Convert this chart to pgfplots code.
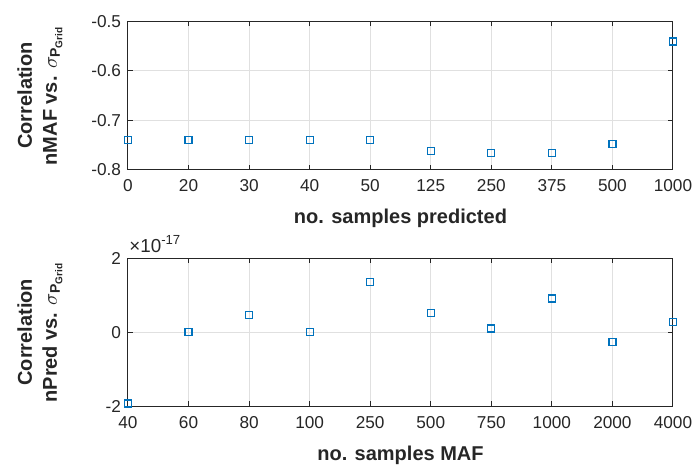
\documentclass[border=0pt]{standalone}
\usepackage{fontspec}
\setmainfont{Liberation Sans}
\usepackage{amsmath}
\usepackage{pgfplots}
\pgfplotsset{compat=1.18}
\definecolor{mblue}{rgb}{0,0.447,0.741}
\definecolor{axgray}{rgb}{0.15,0.15,0.15}
\definecolor{gridgray}{rgb}{0.88,0.88,0.88}

\pgfplotsset{matstyle/.style={
  scale only axis, width=272.5pt,
  xmin=0, xmax=9, xtick={0,...,9},
  axis line style={axgray, line width=0.5pt},
  tick style={axgray, line width=0.5pt},
  major tick length=2.5pt,
  tick align=inside,
  xtick pos=both, ytick pos=both,
  grid=major,
  major grid style={gridgray, line width=0.5pt},
  ticklabel style={font=\fontsize{8.6}{10}\selectfont, text=axgray},
  xticklabel style={yshift=-1.5pt},
  label style={font=\bfseries\fontsize{10}{12.5}\selectfont, text=axgray},
  xlabel style={yshift=-2pt},
  ylabel style={at={(rel axis cs:0,0.5)}, anchor=center, yshift=44pt, align=center},
  clip=false,
}}

\begin{document}
\begin{tikzpicture}
\useasboundingbox (-64pt,-148.75pt) rectangle (283.5pt,84.75pt);

% top: nMAF
\begin{axis}[matstyle, height=74.1pt, at={(0,0)}, anchor=south west,
  ymin=-0.8, ymax=-0.5, ytick={-0.8,-0.7,-0.6,-0.5},
  yticklabels={-0.8,-0.7,-0.6,-0.5},
  xticklabels={0,20,30,40,50,125,250,375,500,1000},
  xlabel={no. samples predicted},
  ylabel={Correlation\\nMAF vs. $\sigma_{\textbf{P}_{\textbf{Grid}}}$}]
\addplot[only marks, mark=square, mark size=1.75pt, mblue, line width=0.6pt] coordinates {
  (0,-0.740) (1,-0.740) (2,-0.740) (3,-0.740) (4,-0.740)
  (5,-0.762) (6,-0.766) (7,-0.766) (8,-0.748) (9,-0.541)
};
\end{axis}

% bottom: nPred (values in 1e-17)
\begin{axis}[matstyle, height=73.85pt, at={(0,-118.25pt)}, anchor=south west,
  ymin=-2, ymax=2, ytick={-2,0,2},
  yticklabels={-2,0,2},
  xticklabels={40,60,80,100,250,500,750,1000,2000,4000},
  xlabel={no. samples MAF},
  ylabel={Correlation\\nPred vs. $\sigma_{\textbf{P}_{\textbf{Grid}}}$}]
\addplot[only marks, mark=square, mark size=1.75pt, mblue, line width=0.6pt] coordinates {
  (0,-1.93) (1,0.01) (2,0.46) (3,0.01) (4,1.36)
  (5,0.51) (6,0.10) (7,0.91) (8,-0.26) (9,0.28)
};
\node[anchor=base west, inner sep=0pt, xshift=0.5pt, yshift=3pt, font=\fontsize{9.4}{11}\selectfont, text=axgray]
  at (rel axis cs:0,1) {×10\textsuperscript{-17}};
\end{axis}
\end{tikzpicture}
\end{document}
